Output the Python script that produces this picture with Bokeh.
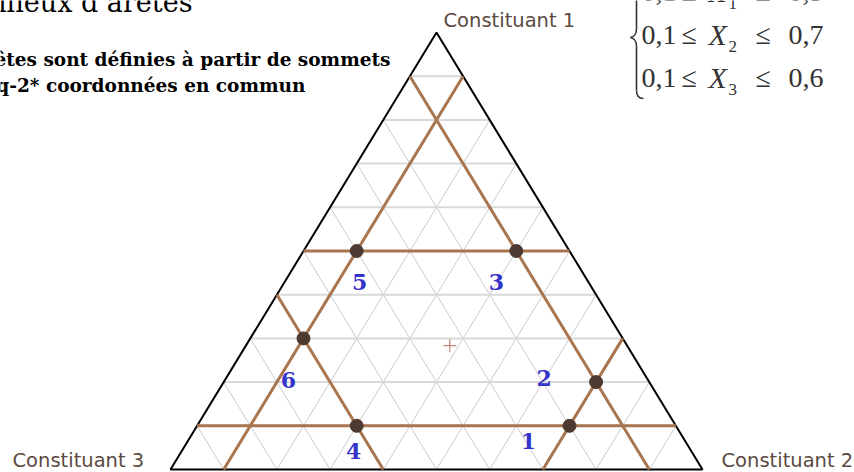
from bokeh.plotting import figure
from bokeh.models import Range1d, ColumnDataSource
from bokeh.core.properties import value
from bokeh.embed import file_html
from bokeh.resources import INLINE
import numpy as np

# ---- data -------------------------------------------------------------
constituants = ["Constituant 1", "Constituant 2", "Constituant 3"]
x1_bounds = [0.1, 0.5]
x2_bounds = [0.1, 0.7]
x3_bounds = [0.1, 0.6]
grid_levels = [0.1, 0.2, 0.3, 0.4, 0.5, 0.6, 0.7, 0.8, 0.9]

# feasible-region vertices (X1, X2, X3)
vertex_ids = ["1", "2", "3", "4", "5", "6"]
vertex_x1 = [0.1, 0.2, 0.5, 0.1, 0.5, 0.3]
vertex_x2 = [0.7, 0.7, 0.4, 0.3, 0.1, 0.1]
vertex_x3 = [0.2, 0.1, 0.1, 0.6, 0.4, 0.6]

title_text = "Milieux d\u2019ar\u00eates"
note_lines = ["Les ar\u00eates sont d\u00e9finies \u00e0 partir de sommets",
              "ayant q-2* coordonn\u00e9es en commun"]
bound_rows = [("0,1", "1", "0,5"), ("0,1", "2", "0,7"), ("0,1", "3", "0,6")]

# ---- layout (pixels) --------------------------------------------------
W, H = 854, 472
LEFT_PX, RIGHT_PX, TOP_PX, BASE_PX = 170, 702, 32, 469
SX = RIGHT_PX - LEFT_PX
SY = BASE_PX - TOP_PX
BASELINE_FIX = 0.38   # lift applied to text so that y is the alphabetic baseline


def px(xp, yp):
    """pixel position (from top-left) -> data coordinates"""
    return (xp - LEFT_PX) / SX, (BASE_PX - yp) / SY


def tpos(xp, yp, size):
    return px(xp, yp - BASELINE_FIX * size)


def cart(x1, x2):
    """ternary (X1 top, X2 bottom-right, X3 bottom-left) -> cartesian"""
    x1 = np.asarray(x1, float)
    x2 = np.asarray(x2, float)
    return x2 + 0.5 * x1, x1


x0, y0 = px(0, H)
xe, ye = px(W, 0)
p = figure(width=W, height=H, x_range=Range1d(x0, xe), y_range=Range1d(y0, ye),
           output_backend="svg", toolbar_location=None, min_border=0,
           x_axis_type=None, y_axis_type=None, outline_line_color=None,
           background_fill_color="white", border_fill_color="white")
p.grid.visible = False


def iso_segment(axis, v):
    if axis == 1:
        a, b = (v, 0.0), (v, 1 - v)
    elif axis == 2:
        a, b = (0.0, v), (1 - v, v)
    else:
        a, b = (0.0, 1 - v), (1 - v, 0.0)
    xa, ya = cart(*a)
    xb, yb = cart(*b)
    return [float(xa), float(xb)], [float(ya), float(yb)]


# grid
for axis, col, lw in [(2, "#cbcbcb", 1), (3, "#cbcbcb", 1), (1, "#d9d9d9", 2)]:
    xs, ys = [], []
    for v in grid_levels:
        sx, sy = iso_segment(axis, v)
        xs.append(sx)
        ys.append(sy)
    p.multi_line(xs, ys, line_color=col, line_width=lw)

# triangle outline
tx, ty = cart([1, 0, 0, 1], [0, 1, 0, 0])
p.line(tx, ty, line_color="black", line_width=2)

# constraint lines
cxs, cys = [], []
for axis, bounds in [(1, x1_bounds), (2, x2_bounds), (3, x3_bounds)]:
    for v in bounds:
        sx, sy = iso_segment(axis, v)
        cxs.append(sx)
        cys.append(sy)
p.multi_line(cxs, cys, line_color="#a8754f", line_width=3)

# vertices
vx, vy = cart(vertex_x1, vertex_x2)
lab_dx = [-41, -52, -20, -3, 3, -15]
lab_dy = [15, -4, 31, 25, 31, 42]
src = ColumnDataSource(dict(x=vx, y=vy, t=vertex_ids, dx=lab_dx, dy=lab_dy))
p.scatter("x", "y", source=src, size=13, fill_color="#4d3a30", line_color="#4d3a30")
p.text("x", "y", text="t", source=src, x_offset="dx", y_offset="dy",
       text_font=value("DejaVu Serif"), text_font_style="bold",
       text_font_size="22px", text_color="#3434c8",
       text_align="center", text_baseline="middle")

# centre of the vertices
gx, gy = cart([np.mean(vertex_x1)], [np.mean(vertex_x2)])
p.scatter(gx, gy, marker="cross", size=13, line_color="#c06a5e", line_width=1)

# corner labels
lab_size = 19.5
lab_pos = [(443, 27), (721, 467), (12, 467)]
for name, (lx, ly) in zip(constituants, lab_pos):
    dx, dy = tpos(lx, ly, lab_size)
    p.text([dx], [dy], text=[name], text_font=value("DejaVu Sans"),
           text_font_size=f"{lab_size}px", text_color="#5b4a42",
           text_align="left", text_baseline="alphabetic")

# heading and note (upper left)
hx, hy = tpos(192, 12, 27)
p.text([hx], [hy], text=[title_text], text_font=value("DejaVu Serif"),
       text_font_size="27px", text_color="black", text_align="right",
       text_baseline="alphabetic")
for line, (lx, ly) in zip(note_lines, [(390, 66), (305, 92)]):
    dx, dy = tpos(lx, ly, 18.5)
    p.text([dx], [dy], text=[line], text_font=value("DejaVu Serif"),
           text_font_style="bold", text_font_size="18.5px", text_color="black",
           text_align="right", text_baseline="alphabetic")

# bounds system (upper right)
math_col = "#333333"
for (lo, sub, hi), base in zip(bound_rows, [2, 45, 88]):
    for txt, xpos, style, size, dyb in [(lo, 641, "normal", 28, 0),
                                        ("\u2264", 681, "normal", 28, 0),
                                        ("X", 708, "italic", 30, 0),
                                        (sub, 728, "normal", 17, 7),
                                        ("\u2264", 755, "normal", 28, 0),
                                        (hi, 788, "normal", 28, 0)]:
        dx, dy = tpos(xpos, base + dyb, size)
        p.text([dx], [dy], text=[txt], text_font=value("Liberation Serif"),
               text_font_style=style, text_font_size=f"{size}px", text_color=math_col,
               text_align="left", text_baseline="alphabetic")

# curly brace
def bz(a, c0, c1, b):
    (ax, ay), (c0x, c0y), (c1x, c1y), (bx, by) = [px(*q) for q in (a, c0, c1, b)]
    p.bezier(x0=[ax], y0=[ay], cx0=[c0x], cy0=[c0y], cx1=[c1x], cy1=[c1y],
             x1=[bx], y1=[by], line_color=math_col, line_width=1.6)

bz((643, -24), (638, -23), (636, -19), (636, -12))
bz((636, -12), (636, 5), (636, 15), (636, 28))
bz((636, 28), (636, 34), (634, 36), (630, 37))
bz((630, 37), (634, 38), (636, 40), (636, 46))
bz((636, 46), (636, 60), (636, 75), (636, 90))
bz((636, 90), (636, 95), (638, 98), (643, 98))

open("out.html", "w").write(file_html(p, INLINE))
